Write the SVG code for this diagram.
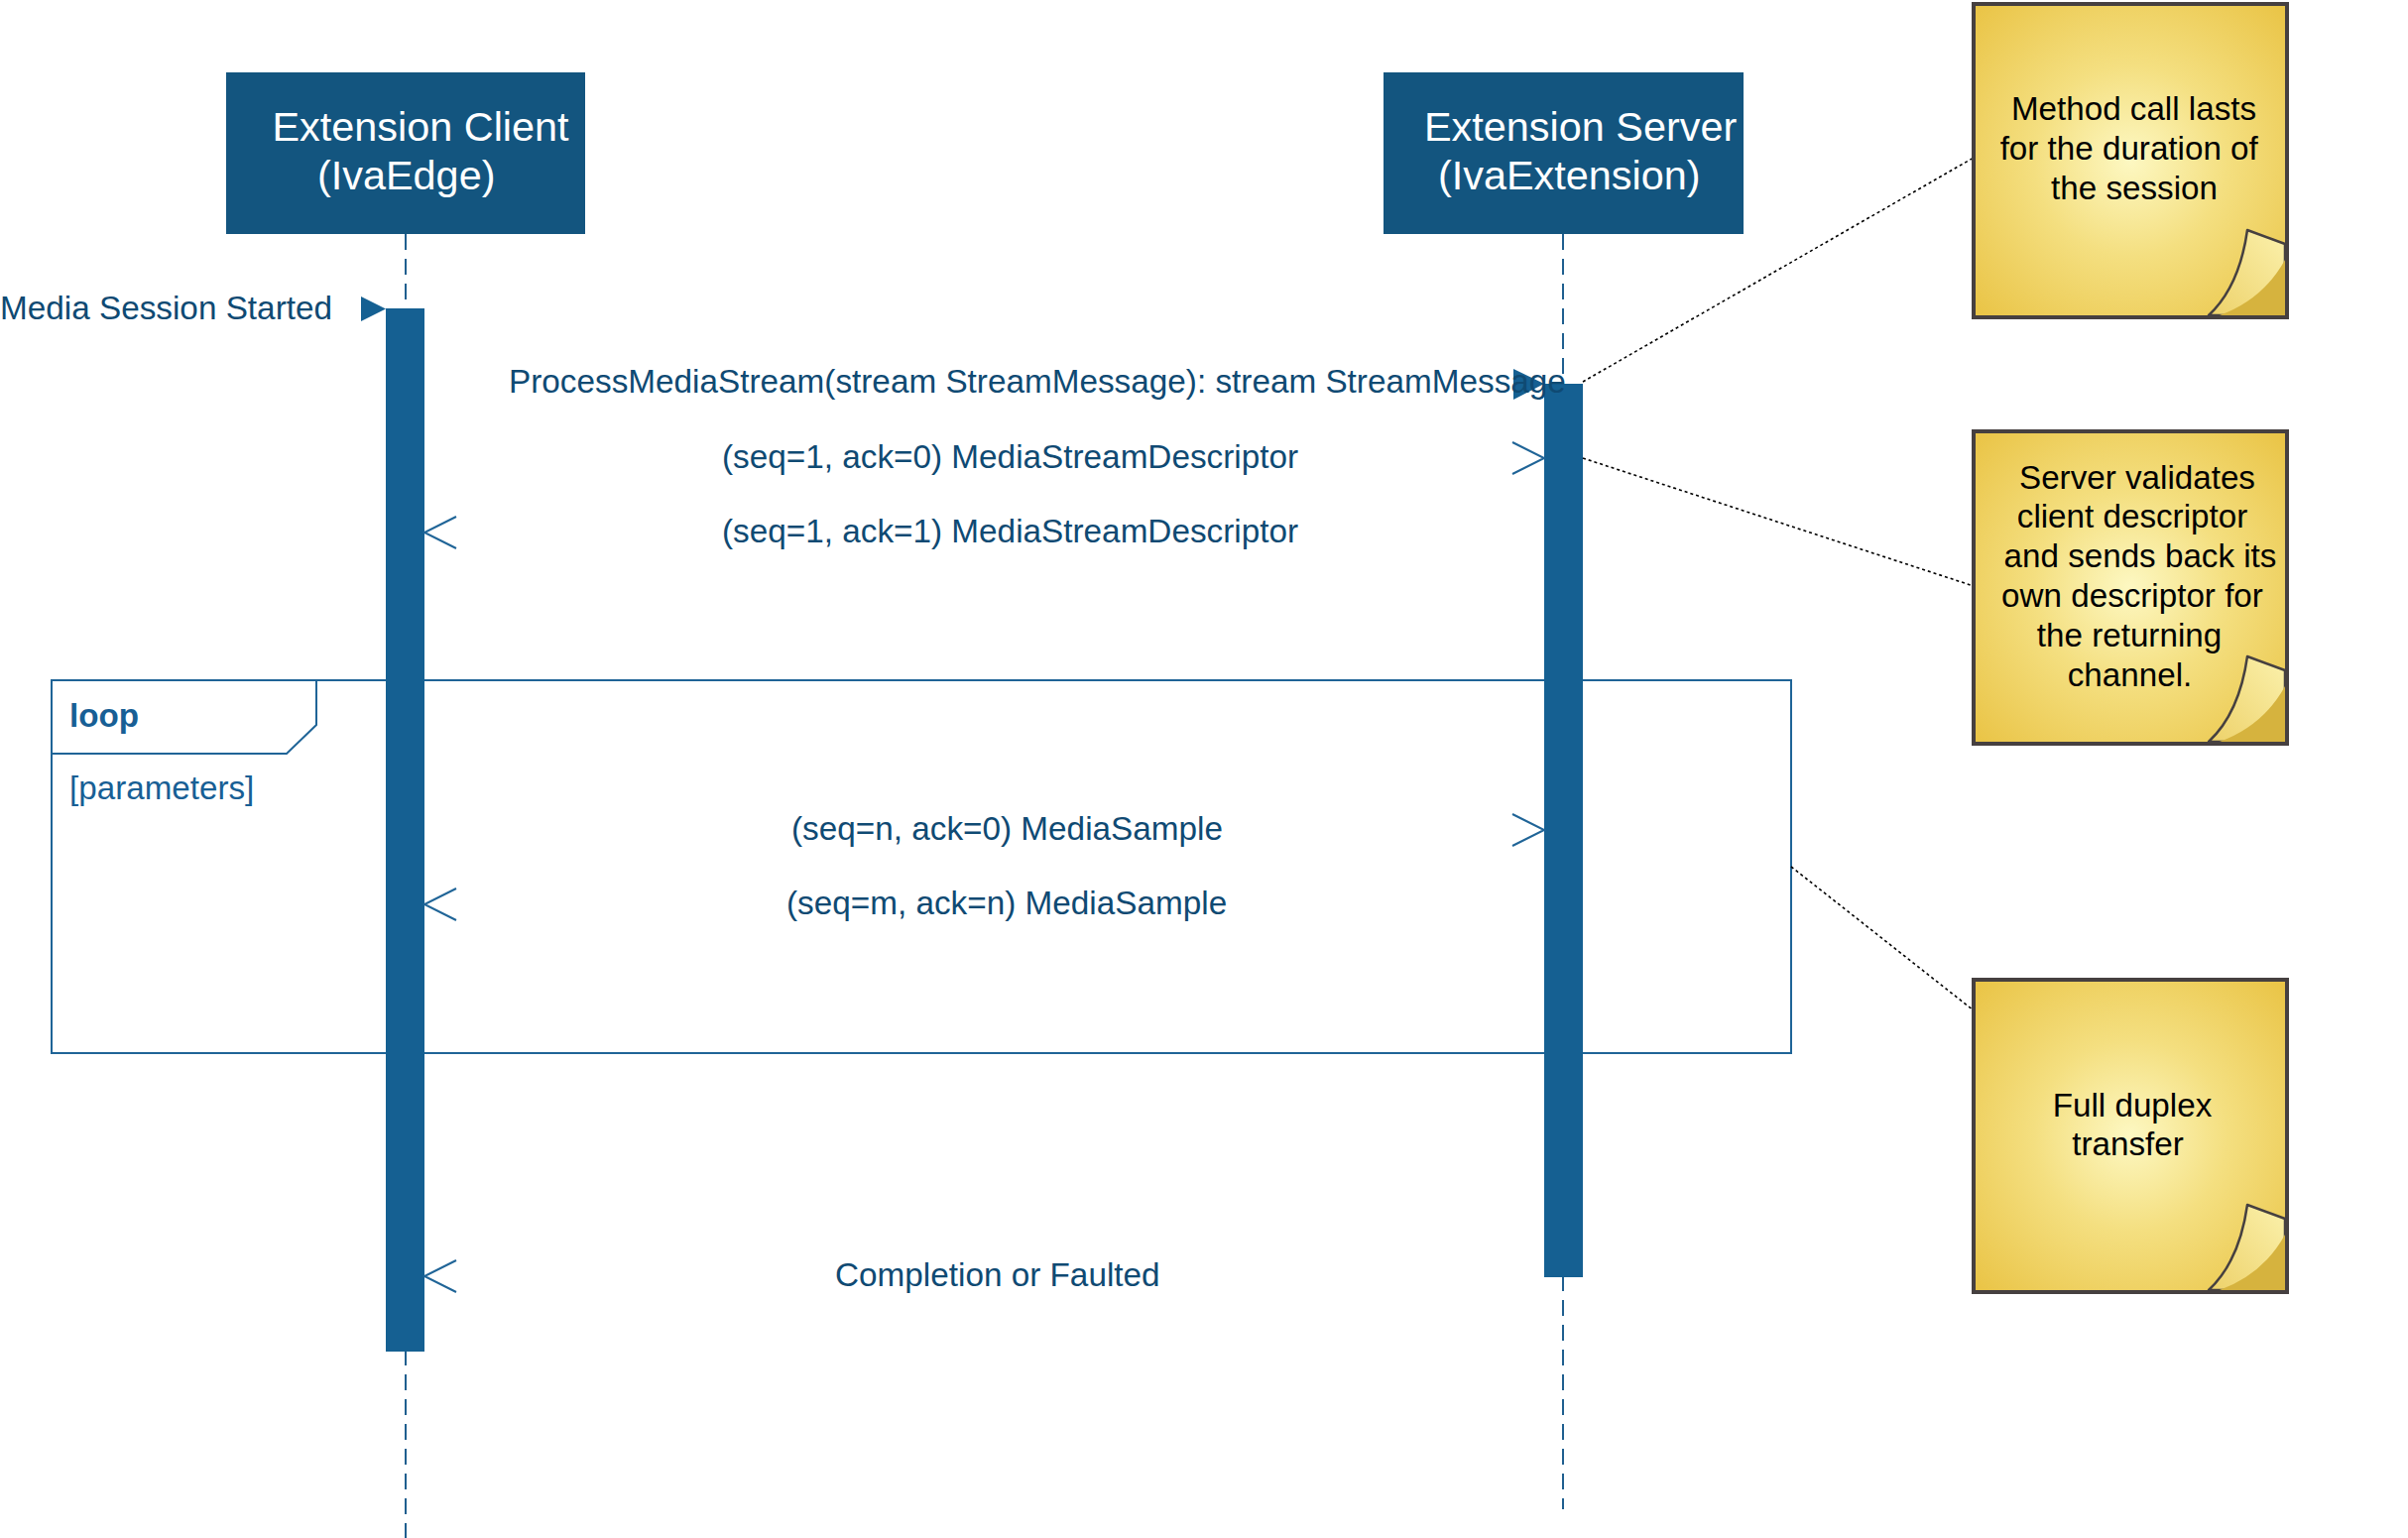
<svg xmlns="http://www.w3.org/2000/svg" width="2428" height="1551" viewBox="0 0 2428 1551">
<defs>
<radialGradient id="ng" cx="50%" cy="50%" r="68%">
<stop offset="0" stop-color="#FDF8C2"/>
<stop offset="0.45" stop-color="#F4DF80"/>
<stop offset="1" stop-color="#EAC548"/>
</radialGradient>
<linearGradient id="cg" x1="1" y1="0" x2="0" y2="1">
<stop offset="0" stop-color="#FBF1AC"/>
<stop offset="1" stop-color="#EDD169"/>
</linearGradient>
<style>
text{font-family:"Liberation Sans",Arial,sans-serif}
.hdr{font-size:41.4px;fill:#ffffff}
.msg{font-size:33.3px;fill:#0F4A73}
.lp{font-size:33.2px;fill:#185F95}
.nt{font-size:33.2px;fill:#000000;text-anchor:middle}
.head{fill:#13557F}
.life{stroke:#1F5F8F;stroke-width:2;stroke-dasharray:16 9;fill:none}
.bar{fill:#156092}
.open{fill:none;stroke:#1F6497;stroke-width:2}
.fill{fill:#156092}
.dot{stroke:#000;stroke-width:1.6;stroke-dasharray:3 3;fill:none}
.paper{fill:url(#ng);stroke:#464040;stroke-width:4}
.curl{fill:url(#cg);stroke:#464040;stroke-width:2.5;stroke-linejoin:round}
.shade{fill:#D6B33E}
</style>
</defs>
<rect width="2428" height="1551" fill="#ffffff"/>

<g id="loop-frame">
<rect x="52" y="686" width="1754" height="376" fill="none" stroke="#1F6497" stroke-width="2"/>
<path d="M52 686 H319 V731 L289 760 H52" fill="none" stroke="#1F6497" stroke-width="2"/>
<text x="70" y="733" class="lp" font-weight="bold">loop</text>
<text x="70" y="806" class="lp">[parameters]</text>
</g>

<g id="client">
<line class="life" x1="409" y1="236" x2="409" y2="1551"/>
<rect class="head" x="228" y="73" width="362" height="163"/>
<text class="hdr" x="274.5" y="142">Extension Client</text>
<text class="hdr" x="320" y="191">(IvaEdge)</text>
<rect class="bar" x="389" y="311" width="39" height="1052"/>
</g>

<g id="server">
<line class="life" x1="1576" y1="236" x2="1576" y2="1522"/>
<rect class="head" x="1395" y="73" width="363" height="163"/>
<text class="hdr" x="1436" y="142">Extension Server</text>
<text class="hdr" x="1450" y="191">(IvaExtension)</text>
<rect class="bar" x="1557" y="387" width="39" height="901"/>
</g>

<g id="connectors">
<path class="fill" d="M364 299 L389 311.5 L364 324 Z"/>
<text class="msg" x="0" y="322">Media Session Started</text>

<path class="fill" d="M1526 372 L1557 387 L1526 403 Z"/>
<text class="msg" x="513" y="396">ProcessMediaStream(stream StreamMessage): stream StreamMessage</text>

<path class="open" d="M1525 446 L1557 462 L1525 478"/>
<text class="msg" x="728" y="472">(seq=1, ack=0) MediaStreamDescriptor</text>

<path class="open" d="M460 521 L428 537 L460 553"/>
<text class="msg" x="728" y="547">(seq=1, ack=1) MediaStreamDescriptor</text>

<path class="open" d="M1525 821 L1557 837 L1525 853"/>
<text class="msg" x="798" y="847">(seq=n, ack=0) MediaSample</text>

<path class="open" d="M460 896 L428 912 L460 928"/>
<text class="msg" x="793" y="922">(seq=m, ack=n) MediaSample</text>

<path class="open" d="M460 1271 L428 1287 L460 1303"/>
<text class="msg" x="842" y="1297">Completion or Faulted</text>

<line class="dot" x1="1596" y1="385" x2="1990" y2="159"/>
<line class="dot" x1="1596" y1="462" x2="1990" y2="591"/>
<line class="dot" x1="1806" y1="874" x2="1990" y2="1019"/>
</g>

<g id="note1" transform="translate(1990,4)">
<rect class="paper" x="0" y="0" width="316" height="316"/>
<path class="curl" d="M237 314 Q268 285 276 228 L314 242 L314 314 Z"/>
<path class="shade" d="M314 258 Q292 298 248 314 L314 314 Z"/>
<rect x="0" y="0" width="316" height="316" fill="none" stroke="#464040" stroke-width="4"/>
<text class="nt" x="161.5" y="117">Method call lasts</text>
<text class="nt" x="156.7" y="157">for the duration of</text>
<text class="nt" x="162" y="197">the session</text>
</g>

<g id="note2" transform="translate(1990,435)">
<rect class="paper" x="0" y="0" width="316" height="315"/>
<path class="curl" d="M237 313 Q268 284 276 227 L314 241 L314 313 Z"/>
<path class="shade" d="M314 257 Q292 297 248 313 L314 313 Z"/>
<rect x="0" y="0" width="316" height="315" fill="none" stroke="#464040" stroke-width="4"/>
<text class="nt" x="165" y="58">Server validates</text>
<text class="nt" x="160" y="97">client descriptor</text>
<text class="nt" x="168" y="137">and sends back its</text>
<text class="nt" x="160" y="177">own descriptor for</text>
<text class="nt" x="157" y="217">the returning</text>
<text class="nt" x="157.5" y="257">channel.</text>
</g>

<g id="note3" transform="translate(1990,988)">
<rect class="paper" x="0" y="0" width="316" height="315"/>
<path class="curl" d="M237 313 Q268 284 276 227 L314 241 L314 313 Z"/>
<path class="shade" d="M314 257 Q292 297 248 313 L314 313 Z"/>
<rect x="0" y="0" width="316" height="315" fill="none" stroke="#464040" stroke-width="4"/>
<text class="nt" x="160" y="138">Full duplex</text>
<text class="nt" x="155.5" y="177">transfer</text>
</g>
</svg>
